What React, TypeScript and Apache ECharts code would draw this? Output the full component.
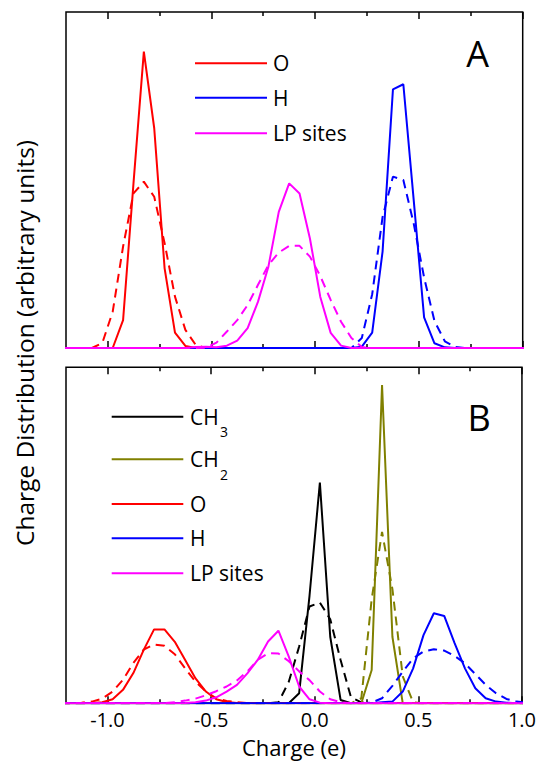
import React, { useEffect, useRef } from "react";
import * as echarts from "echarts";

// Charge grid (bin centres, e)
const charge = [
  -1.225, -1.175, -1.125, -1.075, -1.025, -0.975, -0.925, -0.875, -0.825, -0.775,
  -0.725, -0.675, -0.625, -0.575, -0.525, -0.475, -0.425, -0.375, -0.325, -0.275,
  -0.225, -0.175, -0.125, -0.075, -0.025, 0.025, 0.075, 0.125, 0.175, 0.225,
  0.275, 0.325, 0.375, 0.425, 0.475, 0.525, 0.575, 0.625, 0.675, 0.725,
  0.775, 0.825, 0.875, 0.925, 0.975, 1.025,
];
const majorTicks = [-1.0, -0.5, 0.0, 0.5, 1.0];
const minorTicks = [-0.75, -0.25, 0.25, 0.75];

// ---- Panel A ----
const oSolidA = [
  0, 0, 0, 0, 0, 0, 8.3, 48.9, 88.2, 65.4,
  23.7, 4.6, 0.6, 0, 0, 0, 0, 0, 0, 0,
  0, 0, 0, 0, 0, 0, 0, 0, 0, 0,
  0, 0, 0, 0, 0, 0, 0, 0, 0, 0,
  0, 0, 0, 0, 0, 0,
];
const oDashA = [
  0, 0, 0, 0, 1.5, 10.8, 30.2, 46, 49.5, 45,
  31.2, 15.3, 5.4, 0.9, 0, 0, 0, 0, 0, 0,
  0, 0, 0, 0, 0, 0, 0, 0, 0, 0,
  0, 0, 0, 0, 0, 0, 0, 0, 0, 0,
  0, 0, 0, 0, 0, 0,
];
const hSolidA = [
  0, 0, 0, 0, 0, 0, 0, 0, 0, 0,
  0, 0, 0, 0, 0, 0, 0, 0, 0, 0,
  0, 0, 0, 0, 0, 0, 0, 0, 0, 0.4,
  4.6, 28.7, 77, 78.5, 44, 9.1, 1.4, 0.2, 0, 0,
  0, 0, 0, 0, 0, 0,
];
const hDashA = [
  0, 0, 0, 0, 0, 0, 0, 0, 0, 0,
  0, 0, 0, 0, 0, 0, 0, 0, 0, 0,
  0, 0, 0, 0, 0, 0, 0, 0, 0, 3,
  16, 39, 51, 50, 37, 21, 8, 2, 0.3, 0,
  0, 0, 0, 0, 0, 0,
];
const lpSolidA = [
  0, 0, 0, 0, 0, 0, 0, 0, 0, 0,
  0, 0, 0, 0.3, 0.4, 0.2, 0.7, 2.2, 5.9, 13.8,
  24.2, 40.5, 49, 46, 32.6, 15.2, 4.5, 0.7, 0, 0,
  0, 0, 0, 0, 0, 0, 0, 0, 0, 0,
  0, 0, 0, 0, 0, 0,
];
const lpDashA = [
  0, 0, 0, 0, 0, 0, 0, 0, 0, 0,
  0, 0, 0, 0, 0.1, 1.6, 4.9, 8.3, 12.8, 18.8,
  24.7, 28.4, 30.4, 30.4, 27.2, 21.4, 14.3, 7.8, 3, 0.3,
  0, 0, 0, 0, 0, 0, 0, 0, 0, 0,
  0, 0, 0, 0, 0, 0,
];

// ---- Panel B ----
const ch3SolidB = [
  0, 0, 0, 0, 0, 0, 0, 0, 0, 0,
  0, 0, 0, 0, 0, 0, 0, 0, 0, 0,
  0, 0, 0, 3, 32, 65.7, 19.8, 1, 0, 0,
  0, 0, 0, 0, 0, 0, 0, 0, 0, 0,
  0, 0, 0, 0, 0, 0,
];
const ch3DashB = [
  0, 0, 0, 0, 0, 0, 0, 0, 0, 0,
  0, 0, 0, 0, 0, 0, 0, 0, 0, 0,
  0, 0.3, 6.4, 16.9, 28.8, 30, 25, 12.9, 1.8, 0.3,
  0, 0, 0, 0, 0, 0, 0, 0, 0, 0,
  0, 0, 0, 0, 0, 0,
];
const ch2SolidB = [
  0, 0, 0, 0, 0, 0, 0, 0, 0, 0,
  0, 0, 0, 0, 0, 0, 0, 0, 0, 0,
  0, 0, 0, 0, 0, 0, 0, 0, 0, 0,
  9.9, 94.7, 19.8, 0, 0, 0, 0, 0, 0, 0,
  0, 0, 0, 0, 0, 0,
];
const ch2DashB = [
  0, 0, 0, 0, 0, 0, 0, 0, 0, 0,
  0, 0, 0, 0, 0, 0, 0, 0, 0, 0,
  0, 0, 0, 0, 0, 0, 0, 0, 0, 1.5,
  31, 51, 34, 8, 0.3, 0, 0, 0, 0, 0,
  0, 0, 0, 0, 0, 0,
];
const oSolidB = [
  0, 0, 0, 0.1, 0.3, 1.2, 4, 9, 15.9, 22,
  22, 18.3, 12.9, 7.4, 3.5, 1.2, 0.4, 0.1, 0, 0,
  0, 0, 0, 0, 0, 0, 0, 0, 0, 0,
  0, 0, 0, 0, 0, 0, 0, 0, 0, 0,
  0, 0, 0, 0, 0, 0,
];
const oDashB = [
  0, 0, 0.2, 0.5, 1.4, 3.5, 7, 12, 16, 17.5,
  17.1, 14.6, 10.4, 6.4, 3.5, 1.5, 0.7, 0.3, 0.1, 0,
  0, 0, 0, 0, 0, 0, 0, 0, 0, 0,
  0, 0, 0, 0, 0, 0, 0, 0, 0, 0,
  0, 0, 0, 0, 0, 0,
];
const hSolidB = [
  0, 0, 0, 0, 0, 0, 0, 0, 0, 0,
  0, 0, 0, 0, 0, 0, 0, 0, 0, 0,
  0, 0, 0, 0, 0, 0, 0, 0, 0, 0,
  0, 0.3, 0.5, 3.5, 10.4, 20.3, 26.8, 26, 17.9, 10.4,
  4.5, 1.5, 0.5, 0.2, 0, 0,
];
const hDashB = [
  0, 0, 0, 0, 0, 0, 0, 0, 0, 0,
  0, 0, 0, 0, 0, 0, 0, 0, 0, 0,
  0, 0, 0, 0, 0, 0, 0, 0, 0, 0,
  0.2, 1.5, 5.2, 9.4, 13.4, 15.4, 16.1, 15.7, 14.1, 11.9,
  8.7, 5.5, 3, 1.3, 0.5, 0.2,
];
const lpSolidB = [
  0, 0, 0, 0, 0, 0, 0, 0, 0, 0,
  0, 0, 0.1, 0.3, 0.8, 1.8, 3.5, 5.5, 8.9, 12.9,
  18.4, 21.6, 13.9, 5, 1.2, 0.2, 0, 0, 0, 0,
  0, 0, 0, 0, 0, 0, 0, 0, 0, 0,
  0, 0, 0, 0, 0, 0,
];
const lpDashB = [
  0, 0, 0, 0, 0, 0, 0, 0, 0, 0,
  0.1, 0.3, 0.8, 1.4, 2.4, 3.6, 5, 6.8, 9.5, 12.9,
  14.9, 14.8, 12.5, 9.5, 6.9, 3.5, 1.2, 0.3, 0, 0,
  0, 0, 0, 0, 0, 0, 0, 0, 0, 0,
  0, 0, 0, 0, 0, 0,
];

const FONT = "'Open Sans', 'DejaVu Sans', sans-serif";

const panelA = [
  { label: "O", color: "#ff0000", solid: oSolidA, dashed: oDashA },
  { label: "H", color: "#0000ff", solid: hSolidA, dashed: hDashA },
  { label: "LP sites", color: "#ff00ff", solid: lpSolidA, dashed: lpDashA },
];
const panelB = [
  { label: "CH", sub: "3", color: "#000000", solid: ch3SolidB, dashed: ch3DashB },
  { label: "CH", sub: "2", color: "#808000", solid: ch2SolidB, dashed: ch2DashB },
  { label: "O", color: "#ff0000", solid: oSolidB, dashed: oDashB },
  { label: "H", color: "#0000ff", solid: hSolidB, dashed: hDashB },
  { label: "LP sites", color: "#ff00ff", solid: lpSolidB, dashed: lpDashB },
];

function App() {
  const ref = useRef<HTMLDivElement>(null);

  useEffect(() => {
    document.body.style.margin = "0";
    const chart = echarts.init(ref.current!, null, { renderer: "svg" });

    const GL = 66;
    const GW = 456.7;
    const GH = 336;
    const topA = 12;
    const topB = 367.3;

    const tickStyle = { color: "#000", width: 1.5 };
    const makeX = (gridIndex: number, withLabels: boolean) => {
      const base = {
        type: "value",
        gridIndex,
        min: -1.2,
        max: 1.0,
        axisLine: { show: false },
        splitLine: { show: false },
      };
      return [
        {
          ...base,
          position: "bottom",
          axisTick: { show: true, inside: true, length: 7, customValues: majorTicks, lineStyle: tickStyle },
          axisLabel: {
            show: withLabels,
            customValues: majorTicks,
            formatter: (v: number) => v.toFixed(1),
            fontSize: 20,
            fontFamily: FONT,
            color: "#000",
            margin: 6,
          },
          name: withLabels ? "Charge (e)" : "",
          nameLocation: "middle",
          nameGap: 32,
          nameTextStyle: { fontSize: 22, fontFamily: FONT, color: "#000", lineHeight: 24 },
        },
        {
          ...base,
          position: "top",
          axisTick: { show: true, inside: true, length: 7, customValues: majorTicks, lineStyle: tickStyle },
          axisLabel: { show: false },
        },
        {
          ...base,
          position: "bottom",
          axisTick: { show: true, inside: true, length: 4, customValues: minorTicks, lineStyle: tickStyle },
          axisLabel: { show: false },
        },
        {
          ...base,
          position: "top",
          axisTick: { show: true, inside: true, length: 4, customValues: minorTicks, lineStyle: tickStyle },
          axisLabel: { show: false },
        },
      ];
    };

    const series: any[] = [];
    const addPanel = (panel: any[], xi: number, yi: number) => {
      panel.forEach((p) => {
        series.push({
          type: "line",
          xAxisIndex: xi,
          yAxisIndex: yi,
          symbol: "none",
          silent: true,
          clip: true,
          lineStyle: { color: p.color, width: 2, type: [9, 6] },
          data: charge.map((c, i) => [c, p.dashed[i]]),
        });
        series.push({
          type: "line",
          xAxisIndex: xi,
          yAxisIndex: yi,
          symbol: "none",
          silent: true,
          clip: true,
          lineStyle: { color: p.color, width: 2, type: "solid" },
          data: charge.map((c, i) => [c, p.solid[i]]),
        });
      });
    };
    addPanel(panelA, 0, 0);
    addPanel(panelB, 4, 1);

    const graphics: any[] = [];
    const txt = (text: string, x: number, y: number, size: number, align = "left") => ({
      type: "text",
      x,
      y,
      silent: true,
      style: {
        text,
        fontSize: size,
        fontFamily: FONT,
        fill: "#000",
        align,
        verticalAlign: "middle",
        textAlign: align,
        textVerticalAlign: "middle",
      },
    });
    const legend = (panel: any[], x1: number, x2: number, tx: number, ys: number[]) => {
      panel.forEach((p, i) => {
        graphics.push({
          type: "line",
          silent: true,
          shape: { x1, y1: ys[i], x2, y2: ys[i] },
          style: { stroke: p.color, lineWidth: 2 },
        });
        graphics.push(txt(p.label, tx, ys[i], 21));
        if (p.sub) graphics.push(txt(p.sub, tx + 30, ys[i] + 15, 14));
      });
    };
    legend(panelA, 195, 267, 273, [63.3, 97.7, 133.3]);
    legend(panelB, 111.7, 183.3, 190, [416.7, 459.3, 504, 538.3, 573.3]);
    graphics.push(txt("A", 477.5, 53.3, 36, "center"));
    graphics.push(txt("B", 479, 417.5, 36, "center"));
    graphics.push({
      ...txt("Charge Distribution (arbitrary units)", 24.5, 343, 24.5, "center"),
      rotation: Math.PI / 2,
    });

    const option: any = {
      animation: false,
      backgroundColor: "#fff",
      grid: [
        { left: GL, top: topA, width: GW, height: GH, show: true, borderColor: "#000", borderWidth: 1.5, backgroundColor: "transparent" },
        { left: GL, top: topB, width: GW, height: GH, show: true, borderColor: "#000", borderWidth: 1.5, backgroundColor: "transparent" },
      ],
      xAxis: [...makeX(0, false), ...makeX(1, true)],
      yAxis: [
        { type: "value", gridIndex: 0, min: 0, max: 100, show: false },
        { type: "value", gridIndex: 1, min: 0, max: 100, show: false },
      ],
      series,
      graphic: graphics,
    };
    chart.setOption(option);
    return () => chart.dispose();
  }, []);

  return <div ref={ref} style={{ width: 539, height: 765 }} />;
}

export default App;
